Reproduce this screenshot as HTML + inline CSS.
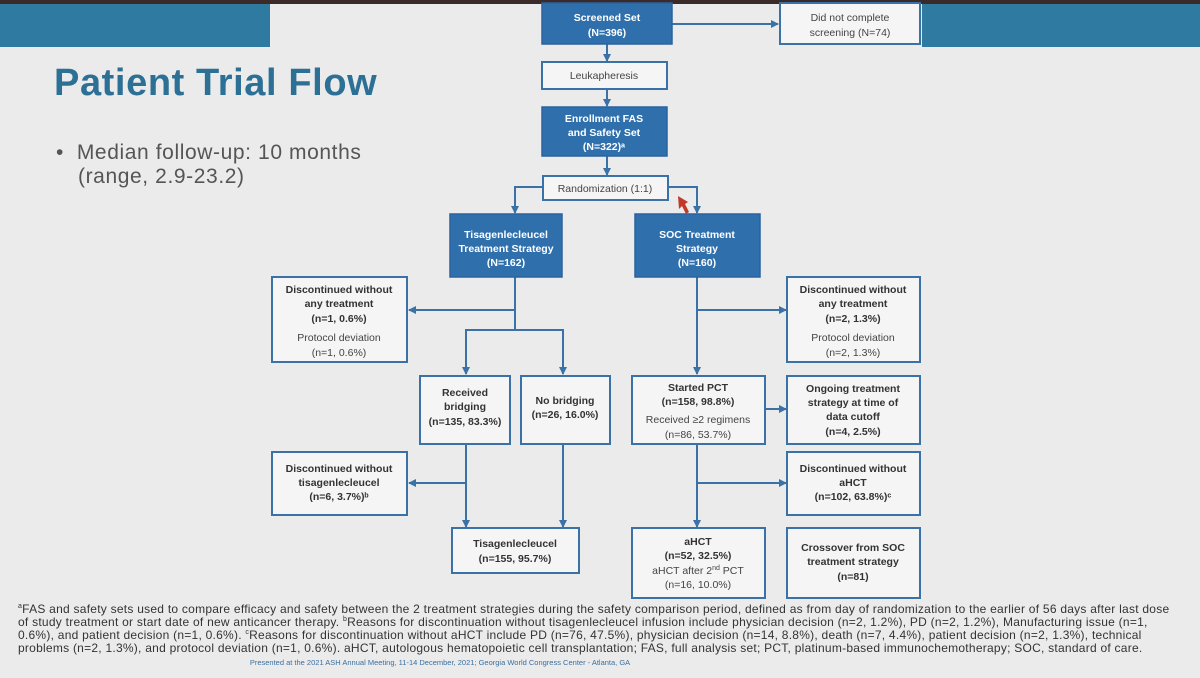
<!DOCTYPE html>
<html><head><meta charset="utf-8"><style>
html,body{margin:0;padding:0;}
body{width:1200px;height:678px;overflow:hidden;background:#ebebeb;position:relative;font-family:"Liberation Sans",Arial,sans-serif;}
.band{position:absolute;top:4px;height:43px;background:#2e7aa0;}
.top{position:absolute;top:0;left:0;width:1200px;height:4px;background:#3a2a2a;}
svg{position:absolute;left:0;top:0;}
.fn{position:absolute;left:18px;top:603px;width:1175px;font-size:12px;line-height:13px;color:#333;letter-spacing:0.25px;white-space:nowrap;}
.fn s{text-decoration:none;font-size:7px;line-height:0;position:relative;top:-5px;}
</style></head><body>
<div class="top"></div>
<div class="band" style="left:0;width:270px"></div>
<div class="band" style="left:922px;width:278px"></div>
<div style="position:absolute;left:54px;top:62px;font-size:38px;letter-spacing:0.6px;font-weight:bold;color:#2d7096;">Patient Trial Flow</div>
<div style="position:absolute;left:56px;top:141px;font-size:21px;line-height:24px;color:#555;letter-spacing:0.6px;">•&nbsp;&nbsp;Median follow-up: 10 months<br><span style="padding-left:22px">(range, 2.9-23.2)</span></div>
<svg width="1200" height="678" viewBox="0 0 1200 678" font-family="Liberation Sans, Arial, sans-serif" font-size="10.5" text-anchor="middle">
<defs><marker id="a" markerWidth="8" markerHeight="8" refX="7" refY="4" orient="auto" markerUnits="userSpaceOnUse"><path d="M0,0 L8,4 L0,8 z" fill="#3a72a8"/></marker></defs>
<g stroke="#3a72a8" stroke-width="2" fill="none">
<line x1="672" y1="24" x2="778" y2="24" marker-end="url(#a)"/>
<line x1="607" y1="44" x2="607" y2="61" marker-end="url(#a)"/>
<line x1="607" y1="89" x2="607" y2="106" marker-end="url(#a)"/>
<line x1="607" y1="156" x2="607" y2="175" marker-end="url(#a)"/>
<polyline points="543,187 515,187 515,213" marker-end="url(#a)"/>
<polyline points="668,187 697,187 697,213" marker-end="url(#a)"/>
<line x1="515" y1="277" x2="515" y2="330"/>
<line x1="515" y1="310" x2="409" y2="310" marker-end="url(#a)"/>
<polyline points="466,374 466,330 563,330 563,374"/>
<line x1="466" y1="366" x2="466" y2="374" marker-end="url(#a)"/>
<line x1="563" y1="366" x2="563" y2="374" marker-end="url(#a)"/>
<line x1="697" y1="277" x2="697" y2="374" marker-end="url(#a)"/>
<line x1="697" y1="310" x2="786" y2="310" marker-end="url(#a)"/>
<line x1="765" y1="409" x2="786" y2="409" marker-end="url(#a)"/>
<line x1="697" y1="444" x2="697" y2="527" marker-end="url(#a)"/>
<line x1="697" y1="483" x2="786" y2="483" marker-end="url(#a)"/>
<line x1="466" y1="444" x2="466" y2="527" marker-end="url(#a)"/>
<line x1="466" y1="483" x2="409" y2="483" marker-end="url(#a)"/>
<line x1="563" y1="444" x2="563" y2="527" marker-end="url(#a)"/>
</g>
<g fill="#2f6fac" stroke="#2a62a0" stroke-width="1.5">
<rect x="542" y="3" width="130" height="41"/>
<rect x="542" y="107" width="125" height="49"/>
<rect x="450" y="214" width="112" height="63"/>
<rect x="635" y="214" width="125" height="63"/>
</g>
<g fill="#f5f5f5" stroke="#3a72a8" stroke-width="2">
<rect x="780" y="3" width="140" height="41"/>
<rect x="542" y="62" width="125" height="27"/>
<rect x="543" y="176" width="125" height="24"/>
<rect x="272" y="277" width="135" height="85"/>
<rect x="787" y="277" width="133" height="85"/>
<rect x="420" y="376" width="90" height="68"/>
<rect x="521" y="376" width="89" height="68"/>
<rect x="632" y="376" width="133" height="68"/>
<rect x="787" y="376" width="133" height="68"/>
<rect x="272" y="452" width="135" height="63"/>
<rect x="787" y="452" width="133" height="63"/>
<rect x="452" y="528" width="127" height="45"/>
<rect x="632" y="528" width="133" height="70"/>
<rect x="787" y="528" width="133" height="70"/>
</g>
<g fill="#fff" font-weight="bold" font-size="10.5">
<text x="607" y="21">Screened Set</text><text x="607" y="36">(N=396)</text>
<text x="604" y="122">Enrollment FAS</text><text x="604" y="136">and Safety Set</text><text x="604" y="150">(N=322)ᵃ</text>
<text x="506" y="238">Tisagenlecleucel</text><text x="506" y="252">Treatment Strategy</text><text x="506" y="266">(N=162)</text>
<text x="697" y="238">SOC Treatment</text><text x="697" y="252">Strategy</text><text x="697" y="266">(N=160)</text>
</g>
<g fill="#444" font-size="10.5">
<text x="850" y="21">Did not complete</text><text x="850" y="36">screening (N=74)</text>
<text x="604" y="79">Leukapheresis</text>
<text x="605" y="192">Randomization (1:1)</text>
<text x="339" y="341">Protocol deviation</text><text x="339" y="356">(n=1, 0.6%)</text>
<text x="853" y="341">Protocol deviation</text><text x="853" y="356">(n=2, 1.3%)</text>
<text x="698" y="423">Received ≥2 regimens</text><text x="698" y="438">(n=86, 53.7%)</text>
<text x="698" y="574">aHCT after 2<tspan font-size="7" dy="-4">nd</tspan><tspan dy="4"> PCT</tspan></text><text x="698" y="588">(n=16, 10.0%)</text>
</g>
<g fill="#333" font-weight="bold" font-size="10.5">
<text x="339" y="293">Discontinued without</text><text x="339" y="307">any treatment</text><text x="339" y="322">(n=1, 0.6%)</text>
<text x="853" y="293">Discontinued without</text><text x="853" y="307">any treatment</text><text x="853" y="322">(n=2, 1.3%)</text>
<text x="465" y="396">Received</text><text x="465" y="410">bridging</text><text x="465" y="425">(n=135, 83.3%)</text>
<text x="565" y="404">No bridging</text><text x="565" y="418">(n=26, 16.0%)</text>
<text x="698" y="391">Started PCT</text><text x="698" y="405">(n=158, 98.8%)</text>
<text x="853" y="392">Ongoing treatment</text><text x="853" y="406">strategy at time of</text><text x="853" y="420">data cutoff</text><text x="853" y="435">(n=4, 2.5%)</text>
<text x="339" y="472">Discontinued without</text><text x="339" y="486">tisagenlecleucel</text><text x="339" y="500">(n=6, 3.7%)ᵇ</text>
<text x="853" y="472">Discontinued without</text><text x="853" y="486">aHCT</text><text x="853" y="500">(n=102, 63.8%)ᶜ</text>
<text x="515" y="547">Tisagenlecleucel</text><text x="515" y="562">(n=155, 95.7%)</text>
<text x="698" y="545">aHCT</text><text x="698" y="559">(n=52, 32.5%)</text>
<text x="853" y="551">Crossover from SOC</text><text x="853" y="565">treatment strategy</text><text x="853" y="580">(n=81)</text>
</g>
<path d="M678,196 l10,6 l-3,2 l4,8 l-3,2 l-4,-8 l-3,3 z" fill="#c0392b"/>
</svg>
<div class="fn"><s>a</s>FAS and safety sets used to compare efficacy and safety between the 2 treatment strategies during the safety comparison period, defined as from day of randomization to the earlier of 56 days after last dose<br>of study treatment or start date of new anticancer therapy. <s>b</s>Reasons for discontinuation without tisagenlecleucel infusion include physician decision (n=2, 1.2%), PD (n=2, 1.2%), Manufacturing issue (n=1,<br>0.6%), and patient decision (n=1, 0.6%). <s>c</s>Reasons for discontinuation without aHCT include PD (n=76, 47.5%), physician decision (n=14, 8.8%), death (n=7, 4.4%), patient decision (n=2, 1.3%), technical<br>problems (n=2, 1.3%), and protocol deviation (n=1, 0.6%). aHCT, autologous hematopoietic cell transplantation; FAS, full analysis set; PCT, platinum-based immunochemotherapy; SOC, standard of care.</div>
<div style="position:absolute;left:0;width:880px;top:658px;text-align:center;font-size:7.5px;color:#3a6fa0;">Presented at the 2021 ASH Annual Meeting, 11-14 December, 2021; Georgia World Congress Center - Atlanta, GA</div>
</body></html>
